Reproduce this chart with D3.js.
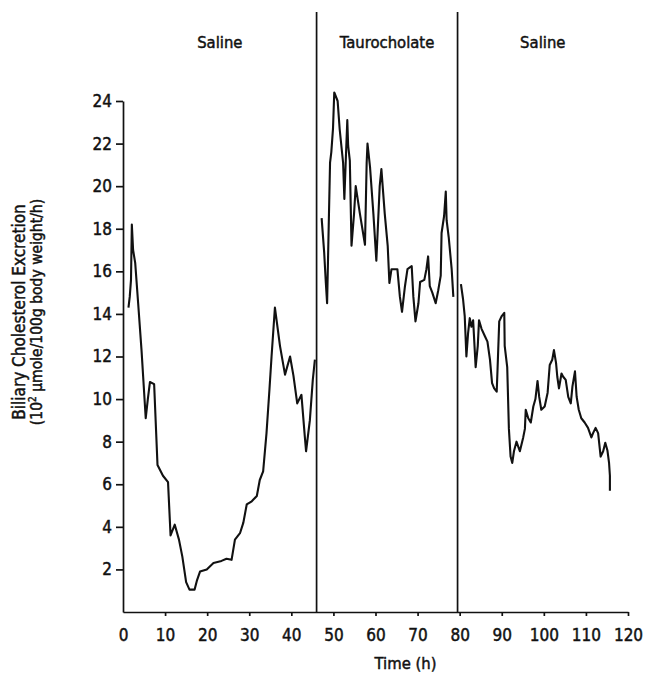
<!DOCTYPE html>
<html>
<head>
<meta charset="utf-8">
<script src="https://cdn.jsdelivr.net/npm/d3@7/dist/d3.min.js"></script>
<style>
  html, body { margin: 0; padding: 0; background: #fff; }
  svg text { font-family: "Liberation Sans Narrow", "DejaVu Sans Condensed", "Arial Narrow", sans-serif; fill: #111; font-stretch: condensed; }
</style>
</head>
<body>
<svg id="chart" width="652" height="675"></svg>
<script>
// Treatment periods (hours) and their labels
const periodLabels = ["Saline", "Taurocholate", "Saline"];
const periodBounds = [0, 46, 79.5, 120];

// Biliary cholesterol excretion, saline period 1
const saline1Time = [1.3, 1.6, 1.9, 2.1, 2.4, 2.9, 3.6, 4.4, 5.4, 5.9, 6.4, 7.4, 8.2, 9.5, 10.7, 11.3, 12.3, 13.3, 14.1, 15.0, 15.8, 17.0, 17.6, 18.3, 19.9, 21.5, 23.4, 24.6, 25.8, 26.6, 27.8, 28.6, 29.4, 30.6, 31.8, 32.5, 33.3, 34.1, 34.8, 35.3, 36.1, 37.3, 38.5, 39.7, 40.5, 41.4, 42.4, 43.2, 43.5, 44.4, 45.1, 45.6];
const saline1Value = [14.3, 14.8, 15.6, 18.2, 17.0, 16.4, 14.5, 12.3, 9.1, 10.0, 10.8, 10.7, 6.9, 6.4, 6.1, 3.6, 4.1, 3.4, 2.6, 1.4, 1.05, 1.05, 1.5, 1.9, 2.0, 2.3, 2.4, 2.5, 2.45, 3.4, 3.7, 4.2, 5.05, 5.2, 5.45, 6.2, 6.6, 8.4, 10.45, 12.0, 14.3, 12.5, 11.15, 12.0, 11.1, 9.8, 10.2, 8.25, 7.55, 9.0, 10.9, 11.85];

// Taurocholate period
const tauroTime = [47.2, 47.8, 48.2, 48.5, 48.9, 49.2, 49.5, 49.9, 50.2, 51.0, 51.5, 52.3, 52.6, 53.0, 53.3, 53.5, 53.9, 54.3, 54.9, 55.3, 56.3, 57.5, 57.9, 58.1, 58.7, 59.5, 60.2, 61.0, 61.4, 62.2, 62.9, 63.3, 63.8, 65.2, 65.8, 66.3, 67.0, 67.6, 68.6, 69.0, 69.5, 70.2, 70.6, 71.6, 72.1, 72.5, 72.9, 73.5, 74.3, 74.9, 75.5, 75.7, 76.3, 76.7, 76.9, 77.4, 78.1, 78.5];
const tauroValue = [18.5, 16.9, 15.45, 14.5, 18.3, 21.1, 21.6, 22.7, 24.4, 24.0, 22.65, 21.1, 19.4, 21.56, 23.1, 21.9, 21.2, 17.2, 18.7, 20.0, 18.7, 17.25, 21.1, 22.0, 20.9, 18.7, 16.5, 20.0, 20.8, 18.7, 17.2, 15.45, 16.1, 16.1, 14.8, 14.1, 15.3, 16.1, 16.25, 14.8, 13.65, 14.5, 15.5, 15.6, 16.1, 16.7, 15.3, 15.0, 14.5, 15.1, 15.8, 17.8, 18.6, 19.75, 18.4, 17.6, 16.1, 14.8];

// Saline period 2
const saline2Time = [80.3, 80.8, 81.2, 81.6, 82.0, 82.4, 82.8, 83.2, 83.8, 84.3, 84.6, 85.2, 86.0, 86.6, 87.2, 87.7, 88.2, 88.8, 89.0, 89.4, 90.0, 90.6, 90.7, 91.3, 91.7, 92.1, 92.5, 92.9, 93.5, 94.3, 95.1, 95.5, 95.7, 96.3, 96.9, 97.5, 98.0, 98.5, 98.9, 99.4, 100.2, 100.9, 101.4, 102.0, 102.4, 102.9, 103.2, 103.6, 104.2, 104.6, 105.2, 105.8, 106.4, 106.8, 107.4, 107.8, 108.3, 108.9, 109.7, 110.5, 111.3, 111.7, 112.3, 112.9, 113.5, 114.1, 114.6, 115.1, 115.5, 115.7, 115.7];
const saline2Value = [15.4, 14.7, 13.9, 12.0, 13.1, 13.8, 13.4, 13.7, 11.5, 12.5, 13.7, 13.3, 12.95, 12.7, 11.85, 10.75, 10.5, 10.35, 11.4, 13.65, 13.9, 14.05, 12.5, 11.5, 8.6, 7.3, 7.0, 7.55, 8.0, 7.55, 8.2, 8.6, 9.5, 9.1, 8.9, 9.65, 10.0, 10.85, 10.1, 9.5, 9.65, 10.3, 11.6, 11.85, 12.3, 11.7, 11.05, 10.5, 11.2, 11.05, 10.9, 10.1, 9.8, 10.6, 11.3, 10.1, 9.5, 9.1, 8.9, 8.65, 8.2, 8.4, 8.65, 8.4, 7.3, 7.55, 7.95, 7.6, 7.0, 6.4, 5.7];

// Axis ticks
const xTicks = [0, 10, 20, 30, 40, 50, 60, 70, 80, 90, 100, 110, 120];
const yTicks = [2, 4, 6, 8, 10, 12, 14, 16, 18, 20, 22, 24];

const svg = d3.select("#chart");
const x = d3.scaleLinear().domain([0, 120]).range([123, 628]);
const y = d3.scaleLinear().domain([0, 24]).range([612, 101]);

// Slightly heavy type, as in a printed figure
function heavy(sel) { sel.attr("stroke", "#111").attr("stroke-width", 0.45).attr("paint-order", "stroke"); }

// Axes
const xAxis = svg.append("g")
  .attr("transform", `translate(0,${y(0)})`)
  .call(d3.axisBottom(x).tickValues(xTicks).tickSize(4).tickSizeOuter(0).tickPadding(13).tickFormat(d3.format("d")));
const yAxis = svg.append("g")
  .attr("transform", `translate(${x(0)},0)`)
  .call(d3.axisLeft(y).tickValues(yTicks).tickSize(7).tickSizeOuter(0).tickPadding(4).tickFormat(d3.format("d")));

[xAxis, yAxis].forEach(g => {
  g.select(".domain").attr("stroke", "#111").attr("stroke-width", 1.7);
  g.selectAll(".tick line").attr("stroke", "#111").attr("stroke-width", 1.7);
  g.selectAll(".tick text").attr("font-size", 17).attr("fill", "#111").call(heavy);
});
xAxis.selectAll(".tick").filter(d => d === 0).select("line").remove();

// Period dividers
svg.append("g").selectAll("line")
  .data(periodBounds.slice(1, -1))
  .join("line")
  .attr("x1", d => x(d)).attr("x2", d => x(d))
  .attr("y1", 12).attr("y2", y(0))
  .attr("stroke", "#111").attr("stroke-width", 1.7);

// Period labels
svg.append("g").selectAll("text")
  .data(periodLabels)
  .join("text")
  .attr("x", (d, i) => x((periodBounds[i] + periodBounds[i + 1]) / 2))
  .attr("y", 48)
  .attr("text-anchor", "middle")
  .attr("font-size", 16.5)
  .call(heavy)
  .text(d => d);

// Excretion traces, one per period
const line = d3.line().x(d => x(d[0])).y(d => y(d[1]));
const traces = [
  d3.zip(saline1Time, saline1Value),
  d3.zip(tauroTime, tauroValue),
  d3.zip(saline2Time, saline2Value)
];
svg.append("g").selectAll("path")
  .data(traces)
  .join("path")
  .attr("d", line)
  .attr("fill", "none")
  .attr("stroke", "#111")
  .attr("stroke-width", 2.1)
  .attr("stroke-linejoin", "round");

// Axis titles
svg.append("text")
  .attr("x", x(60) + 30).attr("y", 669)
  .attr("text-anchor", "middle")
  .attr("font-size", 16.5)
  .call(heavy)
  .text("Time (h)");

const yTitle = svg.append("text")
  .attr("transform", "translate(25,312) rotate(-90)")
  .attr("text-anchor", "middle")
  .call(heavy);
yTitle.append("tspan").attr("x", 0).attr("y", 0).attr("font-size", 17).text("Biliary Cholesterol Excretion");
const sub = yTitle.append("tspan").attr("x", 0).attr("y", 17).attr("font-size", 15.5);
sub.append("tspan").text("(10");
sub.append("tspan").attr("dy", -6).attr("font-size", 10).text("2");
sub.append("tspan").attr("dy", 6).text(" \u03bcmole/100g body weight/h)");
</script>
</body>
</html>
